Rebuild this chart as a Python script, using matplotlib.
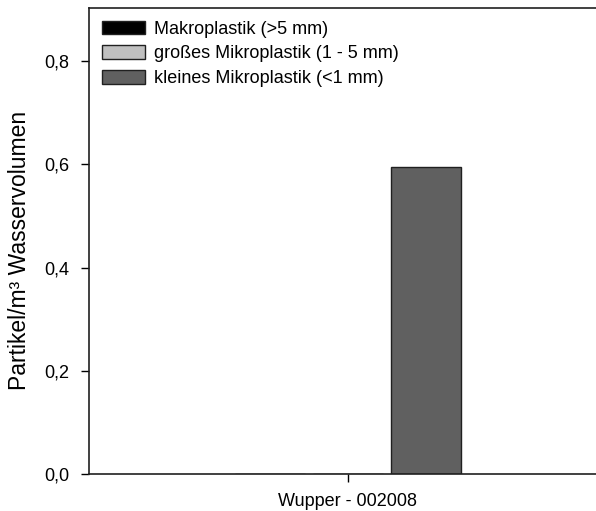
import numpy as np
import matplotlib
matplotlib.use("Agg")
import matplotlib.pyplot as plt
from matplotlib.ticker import FuncFormatter

plt.rcParams['font.family'] = ['Liberation Sans', 'DejaVu Sans']

# Data
sites = ["Wupper - 002008"]
series = ["Makroplastik (>5 mm)", "großes Mikroplastik (1 - 5 mm)", "kleines Mikroplastik (<1 mm)"]
makro = [0.0]
gross_mikro = [0.0]
klein_mikro = [0.595]
colors = ["#000000", "#c0c0c0", "#606060"]

fig = plt.figure(figsize=(5.96, 5.11), dpi=100)
ax = fig.add_axes([89 / 596, 1 - 474 / 511, 520 / 596, 466 / 511])

x = np.arange(len(sites))
width = 0.9
offsets = [-1, 0, 1]
for vals, off, c, lab in zip([makro, gross_mikro, klein_mikro], offsets, colors, series):
    ax.bar(x + off, vals, width, color=c, edgecolor="#202020", linewidth=1.0, label=lab)

ax.set_xlim(-3.32, 3.35)
ax.set_ylim(0, 0.903)
ax.set_xticks(x)
ax.set_xticklabels(sites, fontsize=13)
ax.set_yticks([0, 0.2, 0.4, 0.6, 0.8])
ax.yaxis.set_major_formatter(FuncFormatter(lambda v, p: f"{v:.1f}".replace(".", ",")))
ax.tick_params(axis="y", labelsize=13, length=6, width=1, pad=8)
ax.tick_params(axis="x", length=6, width=1, pad=8)
ax.set_ylabel("Partikel/m³ Wasservolumen", fontsize=16.5)
ax.yaxis.set_label_coords(-0.112, 0.48)
for s in ax.spines.values():
    s.set_linewidth(1.2)
    s.set_color("#202020")

leg = ax.legend(loc="upper left", frameon=False, fontsize=13, handlelength=2.4,
                handleheight=0.78, borderaxespad=0.45, labelspacing=0.42, handletextpad=0.5,
                borderpad=0.25)

fig.savefig("out.png", dpi=100)
